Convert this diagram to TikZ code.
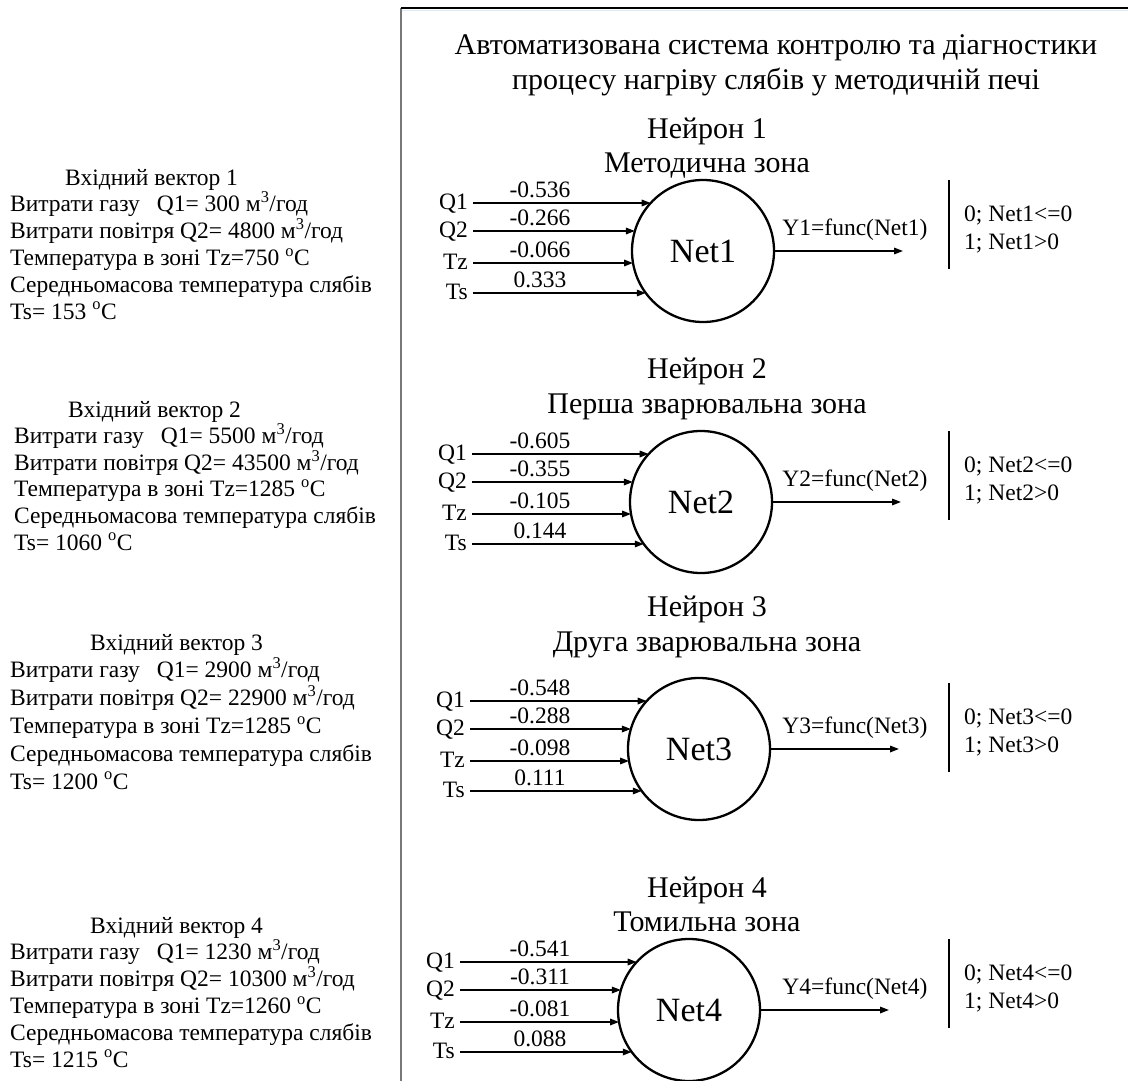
\documentclass[tikz,border=0pt]{standalone}
\usepackage{fontspec}
\setmainfont{Liberation Serif}
\usetikzlibrary{arrows.meta}
\tikzset{
  arr/.style={line width=1.6pt,-{Triangle[length=9pt,width=6.5pt]}},
  neuron/.style={circle,draw,line width=2.3pt,minimum size=142pt,inner sep=0pt,outer sep=0pt,font=\fontsize{34}{40}\selectfont},
  txt/.style={inner sep=0pt,font=\fontsize{23.5}{27}\selectfont},
  big/.style={inner sep=0pt,font=\fontsize{30}{36}\selectfont},
  barline/.style={line width=1.6pt},
}
\newcommand\nrnin[8]{%
  \node[neuron] (net#1) at (#2,#3) {Net#1};
  \foreach \lab/\d/\w [count=\k] in {Q1/-48/#5,Q2/-20/#6,Tz/12/#7,Ts/42/#8}{%
    \pgfmathsetmacro\ang{180+asin(\d/71)}
    \coordinate (s#1\k) at (#4,{#3+(\d)});
    \node[txt,anchor=base east] (l#1\k) at ({#4-5},{#3+(\d)+6}) {\lab};
    \node[txt,anchor=base] (w#1\k) at (540,{#3+(\d)-6}) {\w};
    \draw[arr] (s#1\k) -- ([shift={(\ang:71pt)}]net#1.center);
  }}
\newcommand\nrnout[4]{%
  \coordinate (o#1) at ({#2+200},#3);
  \draw[arr] (net#1.east) -- (o#1);
  \node[txt,anchor=base] (y#1) at (855,{#3-16}) {Y#1=func(Net#1)};
  \coordinate (bt#1) at (949,{#3-71+#4});
  \coordinate (bb#1) at (949,{#3+18+#4});
  \draw[barline] (bt#1) -- (bb#1);
  \node[txt,anchor=base west] (a#1) at (964,{#3-30+#4}) {0; Net#1<=0};
  \node[txt,anchor=base west] (b#1) at (964,{#3-2+#4}) {1; Net#1>0};
}
\newcommand\hdr[4]{%
  \node[big,anchor=base] (h#1) at (707,{#2+10}) {Нейрон #1};
  \node[big,anchor=base] (z#1) at (707,{#3+10}) {#4};
}
\newcommand\invec[9]{%
  \node[txt,anchor=base west] (v#1a) at (#3,{#4+7}) {Вхідний вектор #1};
  \node[txt,anchor=base west] (v#1b) at (#2,{#4+#5+7}) {Витрати газу\hspace{17pt}Q1= #6 м\textsuperscript{3}/год};
  \node[txt,anchor=base west] (v#1c) at (#2,{#4+2*#5+7}) {Витрати повітря Q2= #7 м\textsuperscript{3}/год};
  \node[txt,anchor=base west] (v#1d) at (#2,{#4+3*#5+7}) {Температура в зоні Tz=#8 \textsuperscript{o}C};
  \node[txt,anchor=base west] (v#1e) at (#2,{#4+4*#5+7}) {Середньомасова температура слябів};
  \node[txt,anchor=base west] (v#1f) at (#2,{#4+5*#5+7}) {Ts= #9 \textsuperscript{o}C};
}
\begin{document}
\begin{tikzpicture}[x=1pt,y=-1pt]
\useasboundingbox[fill=white] (0,0) rectangle (1128,1081);
% frame
\coordinate (ftl) at (401,8);
\coordinate (fbl) at (401,1081);
\coordinate (ftr) at (1128,8);
\coordinate (fl2) at (402,10.5);
\coordinate (fr2) at (1128,10.5);
\draw[color={rgb,255:red,222;green,234;blue,246},line width=1pt] (fl2) -- (fr2);
\draw[color={rgb,255:red,120;green,120;blue,120},line width=2pt] (ftl) -- (fbl);
\draw[line width=1.5pt] (ftl) -- (ftr);
% title
\node[big,anchor=base] (t1) at (776,55) {Автоматизована система контролю та діагностики};
\node[big,anchor=base] (t2) at (776,90) {процесу нагріву слябів у методичній печі};
% headers
\hdr{1}{128}{162}{Методична зона}
\hdr{2}{368}{403}{Перша зварювальна зона}
\hdr{3}{606}{641}{Друга зварювальна зона}
\hdr{4}{887}{921}{Томильна зона}
% neurons
\nrnin{1}{703}{251}{473}{-0.536}{-0.266}{-0.066}{0.333}
\nrnout{1}{703}{251}{0}
\nrnin{2}{701}{502}{472}{-0.605}{-0.355}{-0.105}{0.144}
\nrnout{2}{701}{502}{0}
\nrnin{3}{699}{749}{470}{-0.548}{-0.288}{-0.098}{0.111}
\nrnout{3}{699}{749}{5}
\nrnin{4}{689}{1010}{460}{-0.541}{-0.311}{-0.081}{0.088}
\nrnout{4}{689}{1010}{0}
% input vectors
\invec{1}{10}{65}{178}{26.8}{300}{4800}{750}{153}
\invec{2}{14}{68}{410}{26.6}{5500}{43500}{1285}{1060}
\invec{3}{10}{90}{643}{27.8}{2900}{22900}{1285}{1200}
\invec{4}{10}{90}{926}{26.8}{1230}{10300}{1260}{1215}
\end{tikzpicture}
\end{document}
